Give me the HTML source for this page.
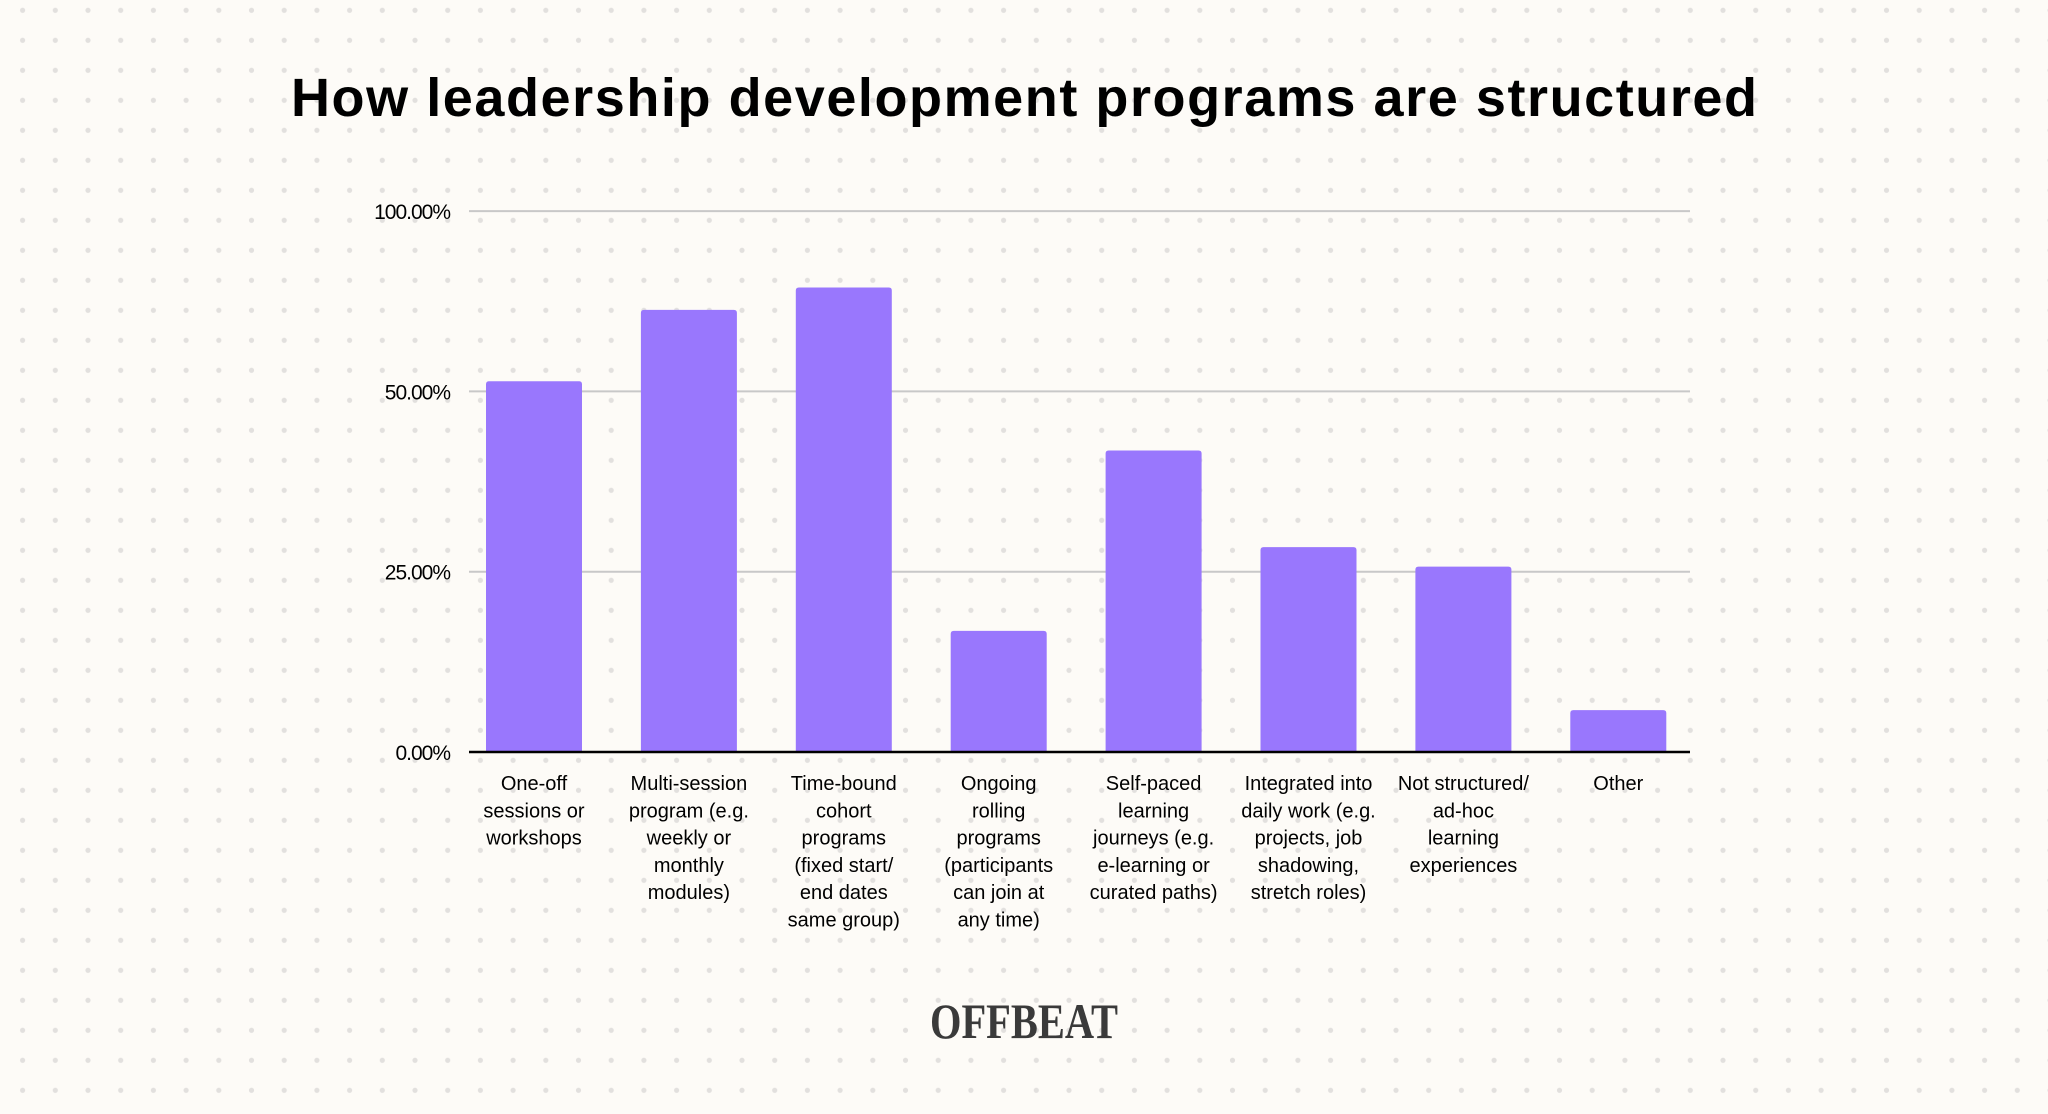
<!DOCTYPE html>
<html><head><meta charset="utf-8">
<style>
html,body{margin:0;padding:0;background:#fdfbf7;}
svg{display:block;}
text{font-family:"Liberation Sans",sans-serif;}
</style></head>
<body>
<svg id="chart" width="2048" height="1114" viewBox="0 0 2048 1114" xmlns="http://www.w3.org/2000/svg">
<defs>
<pattern id="dots" x="22.6" y="10.3" width="32.7" height="30" patternUnits="userSpaceOnUse">
<circle cx="0" cy="0" r="2.6" fill="#e2e0de"/>
<circle cx="32.7" cy="0" r="2.6" fill="#e2e0de"/>
<circle cx="0" cy="30" r="2.6" fill="#e2e0de"/>
<circle cx="32.7" cy="30" r="2.6" fill="#e2e0de"/>
</pattern>
</defs>
<rect width="2048" height="1114" fill="#fdfbf7"/>
<rect width="2048" height="1114" fill="url(#dots)"/>
<text x="1024" y="116" text-anchor="middle" font-size="54" font-weight="bold" fill="#000" textLength="1466" lengthAdjust="spacing">How leadership development programs are structured</text>
<g id="grid"></g>
<g id="yticks"></g>
<g id="bars"></g>
<line x1="469" x2="1690" y1="752" y2="752" stroke="#000" stroke-width="2.5"/>
<g id="xlabels"></g>
<text x="1024" y="1038" text-anchor="middle" font-family="Liberation Serif,serif" font-size="50" font-weight="bold" fill="#3a3a3a" textLength="188" lengthAdjust="spacingAndGlyphs" style="font-family:'Liberation Serif',serif">OFFBEAT</text>
</svg>
<script>
const categories = [
  ["One-off","sessions or","workshops"],
  ["Multi-session","program (e.g.","weekly or","monthly","modules)"],
  ["Time-bound","cohort","programs","(fixed start/","end dates","same group)"],
  ["Ongoing","rolling","programs","(participants","can join at","any time)"],
  ["Self-paced","learning","journeys (e.g.","e-learning or","curated paths)"],
  ["Integrated into","daily work (e.g.","projects, job","shadowing,","stretch roles)"],
  ["Not structured/","ad-hoc","learning","experiences"],
  ["Other"]
];
const values = [51.4, 61.3, 64.4, 16.8, 41.8, 28.4, 25.7, 5.8];
const tickValues = [0, 25, 50, 75];
const tickLabels = ["0.00%", "25.00%", "50.00%", "100.00%"];

const NS = "http://www.w3.org/2000/svg";
const y0 = 752, pxPer = 180.3 / 25;
const yScale = v => y0 - v * pxPer;
const band = 154.9, firstCenter = 534, barW = 96;
const xScale = i => firstCenter + i * band;

const grid = document.getElementById('grid');
const yt = document.getElementById('yticks');
tickValues.forEach((t, i) => {
  const y = yScale(t);
  if (t !== 0) {
    const l = document.createElementNS(NS, 'line');
    l.setAttribute('x1', 469); l.setAttribute('x2', 1690);
    l.setAttribute('y1', y); l.setAttribute('y2', y);
    l.setAttribute('stroke', '#c8c8c8'); l.setAttribute('stroke-width', '2');
    
    
    grid.appendChild(l);
  }
  const tx = document.createElementNS(NS, 'text');
  tx.setAttribute('x', 450); tx.setAttribute('y', y + 8);
  tx.setAttribute('text-anchor', 'end'); tx.setAttribute('font-size', '21');
  tx.setAttribute('fill', '#000'); tx.setAttribute('letter-spacing', '-1');
  tx.textContent = tickLabels[i];
  
  
  yt.appendChild(tx);
});

const bars = document.getElementById('bars');
const xl = document.getElementById('xlabels');
values.forEach((v, i) => {
  const x = xScale(i) - barW / 2, y = yScale(v), h = y0 - y, r = 3;
  const p = document.createElementNS(NS, 'path');
  p.setAttribute('d', `M${x},${y0} V${y + r} Q${x},${y} ${x + r},${y} H${x + barW - r} Q${x + barW},${y} ${x + barW},${y + r} V${y0} Z`);
  p.setAttribute('fill', '#9977fd');
  
  
  bars.appendChild(p);
  const t = document.createElementNS(NS, 'text');
  t.setAttribute('text-anchor', 'middle'); t.setAttribute('font-size', '20');
  t.setAttribute('fill', '#000');
  
  
  categories[i].forEach((line, k) => {
    const s = document.createElementNS(NS, 'tspan');
    s.setAttribute('x', xScale(i)); s.setAttribute('y', 790 + k * 27.3);
    s.textContent = line;
    t.appendChild(s);
  });
  xl.appendChild(t);
});
</script>
</body></html>
